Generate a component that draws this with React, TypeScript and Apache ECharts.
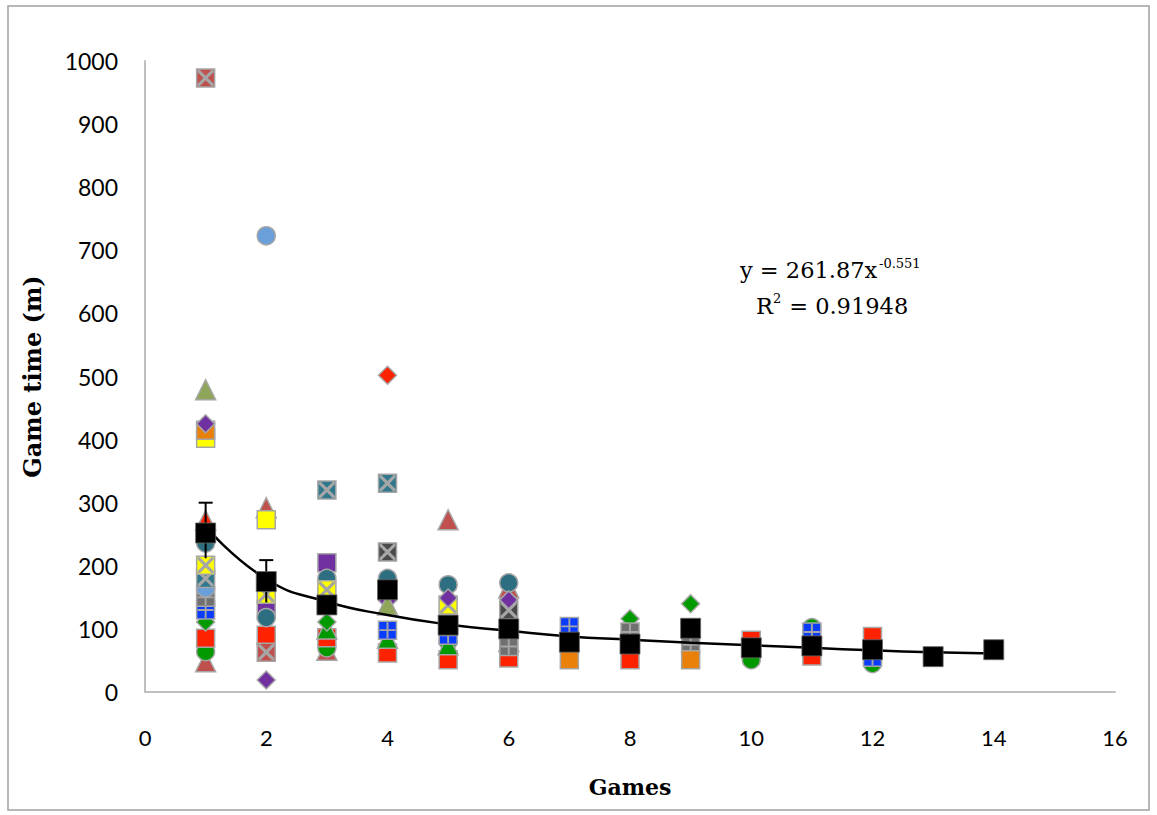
import React, { useEffect, useRef } from "react";
import * as echarts from "echarts";

// ---- data ----
const games = [1, 2, 3, 4, 5, 6, 7, 8, 9, 10, 11, 12, 13, 14];
const gameMeans = [252, 175, 138, 162, 106, 100, 79, 76, 101, 70, 73, 67, 56, 67];
const trendValues = [262, 179, 143, 122, 107, 97, 88, 83, 78, 74, 70, 66, 63, 61];
const errorBars = [
  [1, 212, 300],
  [2, 142, 209],
];
const xTicks = [0, 2, 4, 6, 8, 10, 12, 14, 16];
const yTicks = [0, 100, 200, 300, 400, 500, 600, 700, 800, 900, 1000];

const brownXSq = [[1, 973], [2, 63]];
const oliveTri = [[1, 479], [4, 138]];
const purpleDia = [[1, 425], [2, 19], [4, 145], [5, 149], [6, 146]];
const orangeSq = [[1, 415], [7, 51], [9, 51]];
const yellowSq = [[1, 402], [2, 273]];
const yellowXSq = [[1, 201], [2, 155], [3, 162], [5, 138]];
const redTri = [[1, 272]];
const tealCircle = [[1, 236], [2, 118], [3, 180], [4, 180], [5, 170], [6, 173]];
const tealXSq = [[1, 180], [3, 320], [4, 331]];
const lightBlueCircle = [[1, 165], [2, 723]];
const grayPlusSq = [[1, 150], [6, 72], [8, 95], [9, 75]];
const bluePlusSq = [[1, 130], [4, 98], [5, 90], [6, 85], [7, 104], [11, 95], [12, 55]];
const greenDia = [[1, 111], [3, 111], [8, 116], [9, 140]];
const greenCircle = [[1, 64], [2, 75], [3, 70], [5, 80], [10, 51], [11, 102], [12, 45]];
const brownTri = [[1, 48], [2, 292], [3, 66], [5, 273], [6, 165]];
const darkXSq = [[4, 222], [6, 130]];
const purpleSq = [[2, 130], [3, 205]];
const redDia = [[4, 502]];
const greenTri = [[3, 100], [4, 85], [5, 75], [6, 80]];
const redSq = [[1, 85], [2, 90], [3, 86], [4, 62], [5, 51], [6, 54], [8, 51], [10, 82], [11, 57], [12, 88]];

const X_PATH =
  "path://M0,0 L1.4,0 L10,8.6 L10,10 L8.6,10 L0,1.4 Z M10,0 L10,1.4 L1.4,10 L0,10 L0,8.6 L8.6,0 Z";
const PLUS_PATH = "path://M4.4,0 L5.6,0 L5.6,4.4 L10,4.4 L10,5.6 L5.6,5.6 L5.6,10 L4.4,10 L4.4,5.6 L0,5.6 L0,4.4 L4.4,4.4 Z";

type P = { data: number[][]; symbol: string; color: string; overlay?: string; size?: number };
const participants: P[] = [
  { data: brownTri, symbol: "triangle", color: "#C0504D", size: 20 },
  { data: greenCircle, symbol: "circle", color: "#009A00" },
  { data: redSq, symbol: "rect", color: "#FF2200" },
  { data: greenTri, symbol: "triangle", color: "#009A00", size: 20 },
  { data: greenDia, symbol: "diamond", color: "#009A00" },
  { data: bluePlusSq, symbol: "rect", color: "#0A3CFF", overlay: PLUS_PATH },
  { data: grayPlusSq, symbol: "rect", color: "#707070", overlay: PLUS_PATH },
  { data: lightBlueCircle, symbol: "circle", color: "#6A9FDA" },
  { data: tealXSq, symbol: "rect", color: "#31788C", overlay: X_PATH },
  { data: purpleSq, symbol: "rect", color: "#7030A0" },
  { data: tealCircle, symbol: "circle", color: "#2D6E80" },
  { data: yellowXSq, symbol: "rect", color: "#FFFF00", overlay: X_PATH },
  { data: darkXSq, symbol: "rect", color: "#4A4A4A", overlay: X_PATH },
  { data: redTri, symbol: "triangle", color: "#FF2200", size: 20 },
  { data: yellowSq, symbol: "rect", color: "#FFFF00" },
  { data: orangeSq, symbol: "rect", color: "#E8800A" },
  { data: purpleDia, symbol: "diamond", color: "#7030A0" },
  { data: oliveTri, symbol: "triangle", color: "#8FA65A", size: 20 },
  { data: redDia, symbol: "diamond", color: "#FF2200" },
  { data: brownXSq, symbol: "rect", color: "#C0504D", overlay: X_PATH },
];

const SERIF = "'DejaVu Serif', 'Liberation Serif', serif";
const SANS = "Lato, 'Open Sans', sans-serif";

export default function App() {
  const ref = useRef<HTMLDivElement>(null);
  useEffect(() => {
    document.body.style.margin = "0";
    const chart = echarts.init(ref.current!, null, { renderer: "svg" });
    const series: any[] = [];
    participants.forEach((p, i) => {
      series.push({
        type: "scatter",
        name: "p" + i,
        data: p.data,
        symbol: p.symbol,
        symbolSize: p.size || 18,
        itemStyle: { color: p.color, borderColor: "#A6A6A6", borderWidth: 1.5, opacity: 1 },
        z: 3,
      });
      if (p.overlay) {
        series.push({
          type: "scatter",
          name: "p" + i + "o",
          data: p.data,
          symbol: p.overlay,
          symbolSize: 16,
          itemStyle: { color: "#A6A6A6", opacity: 1 },
          z: 3,
        });
      }
    });
    series.push({
      type: "custom",
      name: "err",
      data: errorBars,
      z: 4,
      renderItem: (params: any, api: any) => {
        const x = api.value(0);
        const lo = api.coord([x, api.value(1)]);
        const hi = api.coord([x, api.value(2)]);
        return {
          type: "group",
          children: [
            { type: "line", shape: { x1: lo[0], y1: lo[1], x2: hi[0], y2: hi[1] }, style: { stroke: "#000", lineWidth: 2 } },
            { type: "line", shape: { x1: hi[0] - 7, y1: hi[1], x2: hi[0] + 7, y2: hi[1] }, style: { stroke: "#000", lineWidth: 2 } },
          ],
        };
      },
    });
    series.push({
      type: "line",
      name: "trend",
      data: games.map((g, i) => [g, trendValues[i]]),
      smooth: 0.5,
      symbol: "none",
      lineStyle: { color: "#000", width: 2.5 },
      z: 5,
    });
    series.push({
      type: "scatter",
      name: "mean",
      data: games.map((g, i) => [g, gameMeans[i]]),
      symbol: "rect",
      symbolSize: 20,
      itemStyle: { color: "#000", borderColor: "#666", borderWidth: 0.8, opacity: 1 },
      z: 6,
    });

    chart.setOption({
      animation: false,
      grid: { left: 145, right: 42, top: 61, bottom: 123 },
      xAxis: {
        type: "value",
        min: xTicks[0],
        max: xTicks[xTicks.length - 1],
        interval: 2,
        name: "Games",
        nameLocation: "middle",
        nameGap: 84,
        nameTextStyle: { fontFamily: SERIF, fontWeight: "bold", fontSize: 22, color: "#000" },
        axisLine: { show: true, lineStyle: { color: "#BFBFBF", width: 2 } },
        axisTick: { show: false },
        splitLine: { show: false },
        axisLabel: { margin: 34, fontFamily: SANS, fontSize: 22, color: "#000" },
      },
      yAxis: {
        type: "value",
        min: yTicks[0],
        max: yTicks[yTicks.length - 1],
        interval: 100,
        name: "Game time (m)",
        nameLocation: "middle",
        nameGap: 101,
        nameTextStyle: { fontFamily: SERIF, fontWeight: "bold", fontSize: 24, color: "#000" },
        axisLine: { show: true, lineStyle: { color: "#BFBFBF", width: 2 } },
        axisTick: { show: false },
        splitLine: { show: false },
        axisLabel: {
          margin: 27,
          fontFamily: SANS,
          fontSize: 23,
          color: "#000",
          formatter: (v: number) => String(v),
        },
      },
      graphic: [
        { type: "rect", shape: { x: 8, y: 6, width: 1141, height: 804 }, style: { fill: "none", stroke: "#A0A0A0", lineWidth: 1.5 }, silent: true },
        { type: "text", left: 740, top: 258, style: { text: "y = 261.87x", font: "22.5px " + SERIF, fill: "#000" } },
        { type: "text", left: 879, top: 257, style: { text: "-0.551", font: "13px " + SERIF, fill: "#000" } },
        { type: "text", left: 756, top: 294, style: { text: "R", font: "22.5px " + SERIF, fill: "#000" } },
        { type: "text", left: 773, top: 292, style: { text: "2", font: "13px " + SERIF, fill: "#000" } },
        { type: "text", left: 782, top: 294, style: { text: " = 0.91948", font: "22.5px " + SERIF, fill: "#000" } },
      ],
      series,
    });
    return () => chart.dispose();
  }, []);
  return <div ref={ref} style={{ width: 1157, height: 815, background: "#fff" }} />;
}
